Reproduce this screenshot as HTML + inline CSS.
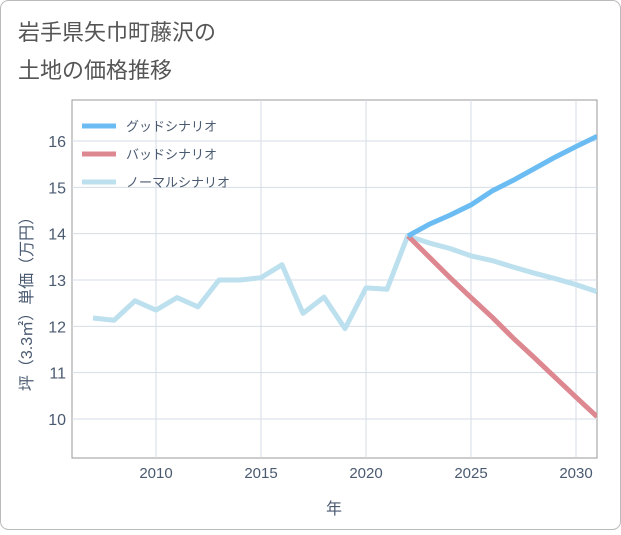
<!DOCTYPE html>
<html><head><meta charset="utf-8"><style>
body{margin:0;background:#fff;}
#wrap{position:relative;width:621px;height:530px;font-family:"Liberation Sans","Noto Sans CJK JP",sans-serif;}
</style></head><body>
<div id="wrap">
<svg id="svg" width="621" height="530" xmlns="http://www.w3.org/2000/svg">
<rect x="0.5" y="0.5" width="620" height="529" rx="8" fill="#fff" stroke="#bbb"/>
<text x="18" y="40" font-size="22" fill="#555" font-family="Liberation Sans, Noto Sans CJK JP, sans-serif">岩手県矢巾町藤沢の</text>
<text x="18" y="78" font-size="22" fill="#555" font-family="Liberation Sans, Noto Sans CJK JP, sans-serif">土地の価格推移</text>
<g id="plot"></g>
</svg>
</div>
<script>
const years=[2007,2008,2009,2010,2011,2012,2013,2014,2015,2016,2017,2018,2019,2020,2021,2022];
const normalHist=[12.18,12.13,12.55,12.35,12.62,12.42,13.0,13.0,13.05,13.33,12.28,12.63,11.95,12.83,12.8,13.97];
const futureYears=[2022,2023,2024,2025,2026,2027,2028,2029,2030,2031];
const goodVals=[13.95,14.2,14.4,14.62,14.92,15.15,15.4,15.65,15.88,16.1];
const badVals=[13.95,13.5,13.05,12.62,12.2,11.75,11.33,10.9,10.47,10.05];
const normalVals=[13.95,13.8,13.68,13.52,13.42,13.28,13.15,13.03,12.9,12.75];
const xTicks=[2010,2015,2020,2025,2030];
const yTicks=[10,11,12,13,14,15,16];
const L=72,R=597,T=100,B=458;
const x=v=>156+(v-2010)*21;
const y=v=>141+(16-v)*46.33;
const NS="http://www.w3.org/2000/svg";
const g=document.getElementById('plot');
function mk(t,a,p){const e=document.createElementNS(NS,t);for(const k in a)e.setAttribute(k,a[k]);(p||g).appendChild(e);return e;}
const bg=mk('rect',{x:L,y:T,width:R-L,height:B-T,fill:'#fff',stroke:'#999'});


xTicks.forEach(v=>{const l=mk('line',{x1:x(v),x2:x(v),y1:T,y2:B,stroke:'#d5dde6'});


const t=mk('text',{x:x(v),y:478,'text-anchor':'middle','font-size':15,fill:'#4a5a70'});t.textContent=v;

});
yTicks.forEach(v=>{const l=mk('line',{x1:L,x2:R,y1:y(v),y2:y(v),stroke:'#d5dde6'});


const t=mk('text',{x:L-6,y:y(v)+6,'text-anchor':'end','font-size':16,fill:'#4a5a70'});t.textContent=v;

});
const xt=mk('text',{x:334,y:514,'text-anchor':'middle','font-size':16,fill:'#4a5a70'});xt.textContent='年';


const yt=mk('text',{x:0,y:0,'text-anchor':'middle','font-size':16,fill:'#4a5a70',transform:'translate(32,300) rotate(-90)'});yt.textContent='坪（3.3㎡）単価（万円）';


function line(xs,vs,c,name){const p=mk('polyline',{points:xs.map((a,i)=>x(a)+','+y(vs[i])).join(' '),fill:'none',stroke:c,'stroke-width':5,'stroke-linejoin':'round'});

}
const clip=mk('clipPath',{id:'cp'});mk('rect',{x:L,y:T,width:R-L,height:B-T},clip);
const lg=mk('g',{'clip-path':'url(#cp)'});
const gOld=g;
function line2(xs,vs,c,name){const p=mk('polyline',{points:xs.map((a,i)=>x(a)+','+y(vs[i])).join(' '),fill:'none',stroke:c,'stroke-width':5,'stroke-linejoin':'round'},lg);

}
line2(years,normalHist,'#bde0ee','normal-history-line');
line2(futureYears,normalVals,'#bde0ee','normal-scenario-line');
line2(futureYears,badVals,'#dd8890','bad-scenario-line');
line2(futureYears,goodVals,'#6bbcf2','good-scenario-line');
const leg=[['グッドシナリオ','#6bbcf2',126],['バッドシナリオ','#dd8890',154],['ノーマルシナリオ','#bde0ee',182]];
leg.forEach(([n,c,yy])=>{const l=mk('line',{x1:82,x2:116,y1:yy,y2:yy,stroke:c,'stroke-width':5});


const t=mk('text',{x:126,y:yy+5,'font-size':13,fill:'#4a5a70'});t.textContent=n;

});
</script>
</body></html>
